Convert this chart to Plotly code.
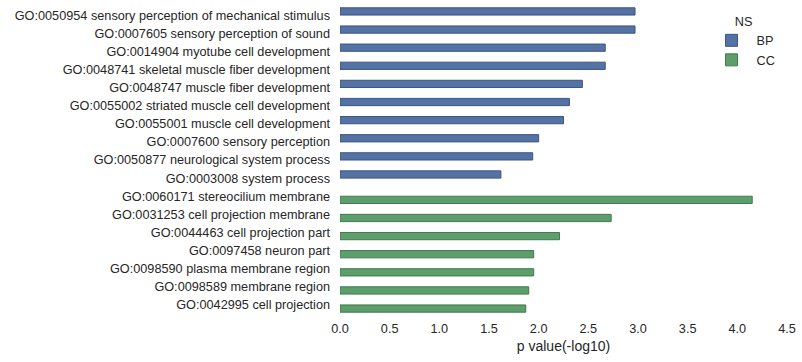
import plotly.graph_objects as go

categories = [
    "GO:0050954 sensory perception of mechanical stimulus",
    "GO:0007605 sensory perception of sound",
    "GO:0014904 myotube cell development",
    "GO:0048741 skeletal muscle fiber development",
    "GO:0048747 muscle fiber development",
    "GO:0055002 striated muscle cell development",
    "GO:0055001 muscle cell development",
    "GO:0007600 sensory perception",
    "GO:0050877 neurological system process",
    "GO:0003008 system process",
    "GO:0060171 stereocilium membrane",
    "GO:0031253 cell projection membrane",
    "GO:0044463 cell projection part",
    "GO:0097458 neuron part",
    "GO:0098590 plasma membrane region",
    "GO:0098589 membrane region",
    "GO:0042995 cell projection",
]
bp_values = [2.97, 2.97, 2.67, 2.67, 2.44, 2.31, 2.25, 2.00, 1.94, 1.62,
             None, None, None, None, None, None, None]
cc_values = [None] * 10 + [4.15, 2.73, 2.21, 1.95, 1.95, 1.90, 1.87]
x_ticks = [0.0, 0.5, 1.0, 1.5, 2.0, 2.5, 3.0, 3.5, 4.0, 4.5]

fig = go.Figure()
fig.add_trace(go.Bar(
    y=categories, x=bp_values, name="BP", orientation="h",
    marker=dict(color="#5572A4", line=dict(color="#3b5583", width=1)),
))
fig.add_trace(go.Bar(
    y=categories, x=cc_values, name="CC", orientation="h",
    marker=dict(color="#5E9E6C", line=dict(color="#3f7a4d", width=1)),
))

font = dict(family="Liberation Sans, Arial, sans-serif", size=12.7, color="#262626")

fig.update_layout(
    width=802, height=362,
    margin=dict(l=340, r=15, t=6, b=48, autoexpand=False),
    paper_bgcolor="white", plot_bgcolor="white",
    font=font,
    barmode="group", bargap=0.2, bargroupgap=0,
    showlegend=True,
    legend=dict(
        title=dict(text="NS", side="top center", font=font),
        x=0.82, y=0.99, xanchor="left", yanchor="top",
        bgcolor="rgba(0,0,0,0)", font=font, itemwidth=40,
        tracegroupgap=2,
    ),
    xaxis=dict(
        range=[0, 4.5], tickvals=x_ticks, tickformat=".1f",
        showgrid=False, zeroline=False, showline=False, ticks="",
        ticklabelstandoff=5,
        title=dict(text="p value(-log10)", standoff=6, font=dict(size=14)),
    ),
    yaxis=dict(
        type="category", autorange="reversed",
        showgrid=False, zeroline=False, showline=False, ticks="",
        ticklabelstandoff=9,
    ),
)

fig.write_html("out.html", config={"displayModeBar": False},
               post_script="document.body.style.margin='0';")
